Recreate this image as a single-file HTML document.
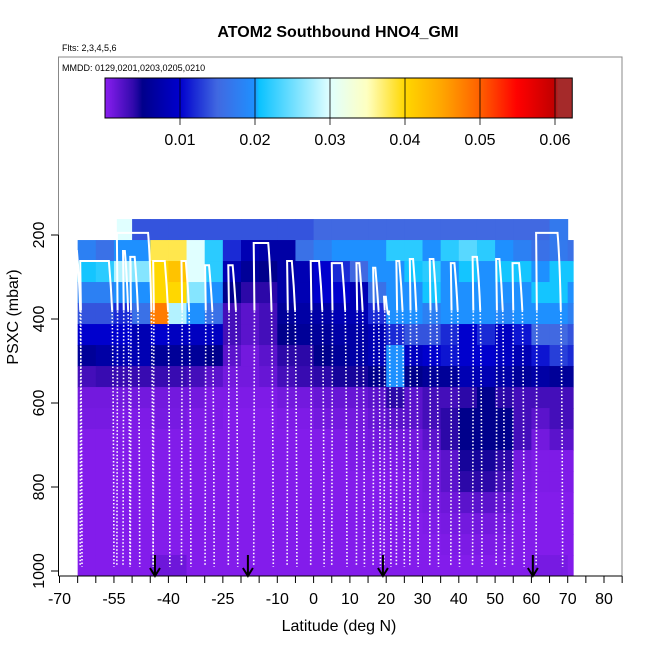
<!DOCTYPE html>
<html><head><meta charset="utf-8"><style>
body{margin:0;background:#fff;}
svg text{font-family:"Liberation Sans",sans-serif;}
</style></head><body>
<svg id="chart" width="650" height="650" viewBox="0 0 650 650" xmlns="http://www.w3.org/2000/svg">
<text x="338" y="37" text-anchor="middle" font-size="16" font-weight="bold">ATOM2 Southbound HNO4_GMI</text>
<text x="62" y="51" font-size="9">Flts: 2,3,4,5,6</text>
<g id="plot"></g>
<rect x="58.5" y="57" width="563.5" height="519" fill="none" stroke="#888" stroke-width="1"/>
<text x="62" y="71" font-size="9">MMDD: 0129,0201,0203,0205,0210</text>
<g id="cbar"></g>
<g id="axes"></g>
<text x="339" y="631" text-anchor="middle" font-size="16">Latitude (deg N)</text>
<text transform="translate(18,317) rotate(-90)" text-anchor="middle" font-size="16">PSXC (mbar)</text>
</svg>
<script>
const latEdges=[-65,-60,-55,-50,-45,-40,-35,-30,-25,-20,-15,-10,-5,0,5,10,15,20,25,30,35,40,45,50,55,60,65,70,71.5];
const presEdges=[162,212,262,312,362,412,462,512,562,612,662,712,762,812,862,912,962,1012];
const row0=[-1,-1,0.03,0.014,0.014,0.014,0.014,0.014,0.014,0.014,0.014,0.014,0.014,0.015,0.015,0.015,0.015,0.015,0.015,0.015,0.015,0.015,0.015,0.015,0.015,0.015,0.017,-1];
const row1=[0.018,0.016,0.02,0.02,0.038,0.038,0.03,0.022,0.012,0.008,0.007,0.007,0.016,0.018,0.02,0.02,0.02,0.022,0.022,0.02,0.022,0.024,0.022,0.02,0.018,0.016,0.017,0.016];
const row2=[0.021,0.022,0.028,0.026,0.04,0.042,0.03,0.022,0.008,0.006,0.005,0.007,0.008,0.01,0.012,0.015,0.02,0.02,0.021,0.022,0.02,0.021,0.02,0.021,0.021,0.02,0.021,0.021];
const row3=[0.018,0.018,0.02,0.02,0.04,0.04,0.026,0.02,0.005,0.004,0.004,0.007,0.008,0.01,0.01,0.008,0.016,0.02,0.02,0.021,0.02,0.02,0.02,0.02,0.02,0.021,0.021,0.02];
const row4=[0.014,0.014,0.012,0.016,0.048,0.028,0.02,0.016,0.003,0.002,0.003,0.006,0.007,0.007,0.008,0.008,0.012,0.02,0.02,0.018,0.02,0.02,0.02,0.019,0.02,0.02,0.02,0.018];
const row5=[0.01,0.01,0.01,0.008,0.01,0.009,0.009,0.009,0.003,0.002,0.003,0.005,0.006,0.006,0.007,0.007,0.008,0.012,0.014,0.014,0.012,0.01,0.012,0.009,0.011,0.015,0.015,0.014];
const row6=[0.006,0.007,0.008,0.008,0.006,0.006,0.006,0.005,0.002,0.001,0.002,0.004,0.004,0.005,0.006,0.007,0.008,0.02,0.009,0.01,0.011,0.01,0.01,0.009,0.008,0.011,0.013,0.012];
const row7=[0.003,0.0035,0.0035,0.0035,0.0035,0.0035,0.003,0.002,0.001,0.001,0.0015,0.003,0.0035,0.004,0.0045,0.0045,0.005,0.02,0.005,0.006,0.006,0.008,0.008,0.007,0.006,0.007,0.006,0.006];
const row8=[0.001,0.001,0.001,0.001,0.001,0.001,0.001,0.0005,0.0005,0.0005,0.0005,0.001,0.001,0.0015,0.0015,0.0015,0.002,0.004,0.002,0.003,0.003,0.004,0.005,0.004,0.003,0.003,0.003,0.003];
const row9=[0.0008,0.0008,0.0005,0.0005,0.0008,0.0008,0.0005,0.0005,0.0003,0.0003,0.0003,0.0005,0.0005,0.001,0.001,0.001,0.0015,0.002,0.002,0.003,0.004,0.005,0.005,0.005,0.003,0.002,0.003,0.003];
const row10=[0.0004,0.0004,0.0004,0.0004,0.0004,0.0004,0.0004,0.0003,0.0003,0.0003,0.0003,0.0003,0.0003,0.0004,0.0005,0.0008,0.001,0.001,0.001,0.002,0.004,0.005,0.005,0.005,0.003,0.001,0.002,0.002];
const row11=[0.0003,0.0003,0.0003,0.0003,0.0003,0.0003,0.0003,0.0003,0.0003,0.0003,0.0003,0.0003,0.0003,0.0003,0.0003,0.0005,0.0005,0.0005,0.0008,0.001,0.002,0.0045,0.0045,0.004,0.001,0.0005,0.0005,0.0005];
const row12=[0.0003,0.0003,0.0003,0.0003,0.0003,0.0003,0.0003,0.0003,0.0003,0.0003,0.0003,0.0003,0.0003,0.0003,0.0003,0.0003,0.0003,0.0003,0.0005,0.001,0.002,0.004,0.004,0.003,0.0008,0.0005,0.0005,0.0005];
const row13=[0.0003,0.0003,0.0003,0.0003,0.0003,0.0003,0.0003,0.0003,0.0003,0.0003,0.0003,0.0003,0.0003,0.0003,0.0003,0.0003,0.0003,0.0003,0.0005,0.0008,0.0012,0.002,0.002,0.0015,0.0005,0.0003,0.0003,0.0003];
const row14=[0.0003,0.0003,0.0003,0.0003,0.0003,0.0003,0.0003,0.0003,0.0003,0.0003,0.0003,0.0003,0.0003,0.0003,0.0003,0.0003,0.0003,0.0003,0.0003,0.0005,0.0008,0.001,0.001,0.0008,0.0003,0.0003,0.0003,0.0003];
const row15=[0.0003,0.0003,0.0003,0.0003,0.0003,0.0003,0.0003,0.0003,0.0003,0.0003,0.0003,0.0003,0.0003,0.0003,0.0003,0.0003,0.0003,0.0003,0.0003,0.0003,0.0005,0.0006,0.0006,0.0005,0.0003,0.0003,0.0003,0.0003];
const row16=[0.0003,0.0003,0.0003,0.0003,0.0012,0.0012,0.0003,0.0003,0.0003,0.0003,0.0003,0.0003,0.0003,0.0003,0.0003,0.0003,0.0003,0.0003,0.0003,0.0003,0.0003,0.0003,0.0003,0.0003,0.0003,0.0008,0.0008,0.0003];
const grid=[row0,row1,row2,row3,row4,row5,row6,row7,row8,row9,row10,row11,row12,row13,row14,row15,row16];
// flight profiles: left lat, right lat, top pressure
const profLeft=[-65.5,-64.3,-54.2,-52.5,-50.5,-44.2,-36.4,-29.9,-23.5,-16.5,-7.3,-0.8,5,11.8,16.4,19.4,22.8,26.5,32,37.8,43.8,50.3,54.8,61.3];
const profRight=[-65.2,-56.4,-45.6,-52,-49.3,-41,-35.2,-28.8,-22.3,-12.5,-6,1.5,7.8,12.6,17,19.9,23.6,27.4,33,38.8,45,51.2,56.6,67.2];
const profTop=[238,262,195,238,252,262,262,272,272,219,262,262,267,267,278,347,262,257,257,267,252,257,267,195];
const arrowLats=[-43.7,-18.1,19.1,60.4];
const xTicks=[-70,-65,-60,-55,-50,-45,-40,-35,-30,-25,-20,-15,-10,-5,0,5,10,15,20,25,30,35,40,45,50,55,60,65,70,75,80,85];
const xLabels=[-70,-55,-40,-25,-10,0,10,20,30,40,50,60,70,80];
const yTicks=[200,400,600,800,1000];
const cbTicks=[0.01,0.02,0.03,0.04,0.05,0.06];
const stops=[[0,'#8a1ef0'],[0.004,'#2c08a8'],[0.005,'#00008b'],[0.01,'#0000cd'],[0.015,'#4169e1'],[0.02,'#1e90ff'],[0.0201,'#00bfff'],[0.03,'#e0ffff'],[0.035,'#ffffc0'],[0.04,'#ffd700'],[0.045,'#ffa500'],[0.05,'#ff6000'],[0.055,'#ff0000'],[0.06,'#c00000'],[0.0601,'#a52a2a'],[0.0625,'#a52a2a']];

const NS='http://www.w3.org/2000/svg';
const xs=l=>59.5+(l+70)*3.63;
const ys=p=>571-(1000-p)*0.42;
const cx=v=>105+v*7500;
function hex(h){return [1,3,5].map(i=>parseInt(h.substr(i,2),16));}
function color(v){
  if(v<=stops[0][0])return stops[0][1];
  for(let i=1;i<stops.length;i++){if(v<=stops[i][0]){const a=stops[i-1],b=stops[i];const t=(v-a[0])/(b[0]-a[0]);const c1=hex(a[1]),c2=hex(b[1]);return 'rgb('+c1.map((c,k)=>Math.round(c+(c2[k]-c)*t)).join(',')+')';}}
  return stops[stops.length-1][1];
}
function mk(tag,attrs,parent){const e=document.createElementNS(NS,tag);for(const k in attrs)e.setAttribute(k,attrs[k]);parent.appendChild(e);return e;}
const plot=document.getElementById('plot');
grid.forEach((row,r)=>{row.forEach((v,c)=>{
  if(v<0)return;
  let l0=latEdges[c];if(r===0&&c===2)l0=-54.2;
  const x0=xs(l0),x1=xs(latEdges[c+1]);const y0=ys(presEdges[r]),y1=Math.min(ys(presEdges[r+1]),575);
  const el=mk('rect',{x:x0,y:y0,width:x1-x0+0.5,height:y1-y0+0.5,fill:color(v)},plot);
  
  
});});
profLeft.forEach((a,i)=>{
  const b=profRight[i],t=profTop[i];
  const dLeft='M'+xs(a)+','+ys(985)+' L'+xs(a+0.2)+','+ys(380);
  const dTop='M'+xs(a+0.2)+','+ys(380)+' L'+xs(a)+','+ys(t)+' L'+xs(b)+','+ys(t)+' Q'+xs(b+0.6)+','+ys(t+60)+' '+xs(b+0.9)+','+ys(380);
  const dRight='M'+xs(b+0.9)+','+ys(380)+' Q'+xs(b+1.3)+','+ys(600)+' '+xs(b+1.4)+','+ys(990);
  const p1=mk('path',{d:dLeft+' '+dRight,fill:'none',stroke:'#fff','stroke-width':1.6,'stroke-dasharray':'1.5 2'},plot);
  
  
  const p2=mk('path',{d:dTop,fill:'none',stroke:'#fff','stroke-width':2},plot);
  
  
});
arrowLats.forEach(l=>{
  const x=xs(l);
  const g=mk('path',{d:'M'+x+',555 L'+x+',576 M'+(x-5)+',568 L'+x+',576 L'+(x+5)+',568',fill:'none',stroke:'#000','stroke-width':2},plot);
  
  
});
const axes=document.getElementById('axes');
const xl=mk('line',{x1:xs(-70),x2:xs(85),y1:576,y2:576,stroke:'#000'},axes);


xTicks.forEach(t=>{const e=mk('line',{x1:xs(t),x2:xs(t),y1:576,y2:583,stroke:'#000'},axes);
  
  });
xLabels.forEach(t=>{const e=mk('text',{x:xs(t),y:604,'text-anchor':'middle','font-size':16},axes);e.textContent=t;
  
  });
const yl=mk('line',{x1:58.5,x2:58.5,y1:ys(200),y2:576,stroke:'#000'},axes);


yTicks.forEach(t=>{const y=ys(t);const e=mk('line',{x1:51,x2:58.5,y1:y,y2:y,stroke:'#000'},axes);
  
  
  const tx=mk('text',{transform:'translate(44,'+y+') rotate(-90)','text-anchor':'middle','font-size':16},axes);tx.textContent=t;
  
  });
const cb=document.getElementById('cbar');
const defs=mk('defs',{},cb);const lg=mk('linearGradient',{id:'cg',x1:0,x2:1,y1:0,y2:0},defs);
for(let i=0;i<=100;i++){const v=0.0623*i/100;mk('stop',{offset:i/100,'stop-color':color(v)},lg);}
const cr=mk('rect',{x:105,y:78,width:cx(0.0623)-105,height:40,fill:'url(#cg)',stroke:'#000'},cb);


cbTicks.forEach(t=>{const x=cx(t);const e=mk('line',{x1:x,x2:x,y1:78,y2:125,stroke:'#000','stroke-width':0.8},cb);
  
  
  const tx=mk('text',{x:x,y:145,'text-anchor':'middle','font-size':16},cb);tx.textContent=t.toFixed(2);
  
  });
</script>
</body></html>
